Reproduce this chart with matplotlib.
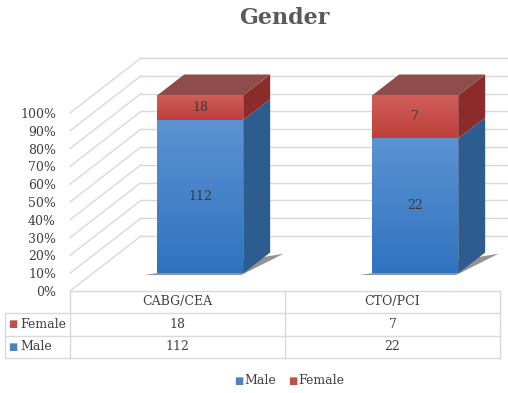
"""
Gender - 3D-looking 100% stacked columns with a data table
"""

import numpy as np
import matplotlib.pyplot as plt
from matplotlib.patches import Polygon

categories = ['CABG/CEA', 'CTO/PCI']
series = ['Male', 'Female']
male = [112, 22]
female = [18, 7]
yticks = [0, 10, 20, 30, 40, 50, 60, 70, 80, 90, 100]

front_col = {'Male': ('#5d93d3', '#2f73bf'), 'Female': ('#d05e5a', '#bd3f3b')}
side_col = {'Male': '#2d5c8e', 'Female': '#8b2c2a'}
top_col = {'Male': '#3f6f9f', 'Female': '#8e4c4a'}

DX, DY = 0.33, 30.9          # full depth offset (x units, percent units)
F0, F1 = 0.32, 0.70          # bar front / back depth
BW = 0.40                    # bar width
grid = '#d9d9d9'
txt = '#404040'

fig = plt.figure(figsize=(5.08, 3.93), dpi=100)
ax = fig.add_axes([70 / 508, 102 / 393, 430 / 508, 178 / 393])
ax.set_xlim(0, 2)
ax.set_ylim(0, 100)
for s in ax.spines.values():
    s.set_visible(False)


def P(x, y, d):
    return (x + d * DX, y + d * DY)


# back wall and side wall grid
for t in yticks:
    ax.plot([P(0, t, 1)[0], 2.2], [P(0, t, 1)[1]] * 2, color=grid, lw=1,
            clip_on=False, zorder=1)
    ax.plot([0, DX], [t, t + DY], color=grid, lw=1, clip_on=False, zorder=1)

ax.set_yticks(yticks)
ax.set_yticklabels(['%d%%' % t for t in yticks], fontsize=9, color=txt,
                   family='DejaVu Serif')
ax.tick_params(axis='y', length=0, pad=10)
ax.set_xticks([])

# gradient image for front faces
grad = np.linspace(0, 1, 64).reshape(-1, 1)

for i, cat in enumerate(categories):
    total = male[i] + female[i]
    vals = {'Male': male[i] / total * 100, 'Female': female[i] / total * 100}
    x0 = i + 0.5 - BW / 2
    bottom = 0
    # shadow under bar
    sh = Polygon([P(x0 - 0.05, bottom, F0 - 0.03), P(x0 + BW, bottom, F0 - 0.03),
                  P(x0 + BW + 0.07, bottom, F1 - 0.02), P(x0 + BW, bottom, F1 - 0.08)],
                 closed=True, fc='#3a3a3a', ec='none', alpha=0.55,
                 clip_on=False, zorder=2)
    ax.add_patch(sh)
    for j, s in enumerate(series):
        h = vals[s]
        y0, y1 = bottom, bottom + h
        # right side face
        side = Polygon([P(x0 + BW, y0, F0), P(x0 + BW, y0, F1),
                        P(x0 + BW, y1, F1), P(x0 + BW, y1, F0)],
                       closed=True, fc=side_col[s], ec='none',
                       clip_on=False, zorder=3)
        ax.add_patch(side)
        # front face with vertical gradient
        fx0, fy0 = P(x0, y0, F0)
        fx1, fy1 = P(x0 + BW, y1, F0)
        c_top, c_bot = front_col[s]
        ctop = np.array(plt.matplotlib.colors.to_rgb(c_top))
        cbot = np.array(plt.matplotlib.colors.to_rgb(c_bot))
        img = ctop[None, None, :] * (1 - grad[:, :, None]) + cbot[None, None, :] * grad[:, :, None]
        ax.imshow(img, extent=(fx0, fx1, fy0, fy1), origin='upper',
                  aspect='auto', zorder=4, clip_on=False)
        # top face on the last segment
        if j == len(series) - 1:
            top = Polygon([P(x0, y1, F0), P(x0 + BW, y1, F0),
                           P(x0 + BW, y1, F1), P(x0, y1, F1)],
                          closed=True, fc=top_col[s], ec='none',
                          clip_on=False, zorder=3)
            ax.add_patch(top)
        val = male[i] if s == 'Male' else female[i]
        ax.text(fx0 + BW / 2, (fy0 + fy1) / 2, str(val), ha='center',
                va='center', fontsize=9, color='#3a3a3a',
                family='DejaVu Serif', zorder=5)
        bottom = y1

ax.set_xlim(0, 2)
ax.set_ylim(0, 100)

# title
fig.text(0.56, 0.955, 'Gender', ha='center', va='center', fontsize=16,
         fontweight='bold', color='#595959', family='DejaVu Serif')


# data table
def fx(px):
    return px / 508


def fy(py):
    return 1 - py / 393


tl = dict(color=grid, lw=1, transform=fig.transFigure)
fig.add_artist(plt.Line2D([fx(70), fx(500)], [fy(291), fy(291)], **tl))
for yy in [313, 336, 358]:
    fig.add_artist(plt.Line2D([fx(5), fx(500)], [fy(yy), fy(yy)], **tl))
for xx in [70, 285, 500]:
    fig.add_artist(plt.Line2D([fx(xx), fx(xx)], [fy(291), fy(358)], **tl))
fig.add_artist(plt.Line2D([fx(5), fx(5)], [fy(313), fy(358)], **tl))

tab_font = dict(fontsize=9, color=txt, family='DejaVu Serif', va='center')
row_y = {'Female': 324.5, 'Male': 347}
row_vals = {'Female': female, 'Male': male}
row_color = {'Female': '#c0504d', 'Male': '#4f81bd'}
for i, cat in enumerate(categories):
    cx = fx(177.5 + 215 * i)
    fig.text(cx, fy(302), cat, ha='center', **tab_font)
    for s in ['Female', 'Male']:
        fig.text(cx, fy(row_y[s]), str(row_vals[s][i]), ha='center', **tab_font)
for s in ['Female', 'Male']:
    fig.text(fx(8), fy(row_y[s]), '\u25a0', ha='left', fontsize=7,
             color=row_color[s], va='center')
    fig.text(fx(20), fy(row_y[s]), s, ha='left', **tab_font)

# legend
leg_x = {'Male': 234, 'Female': 288}
for s in series:
    fig.text(fx(leg_x[s]), fy(381), '\u25a0', ha='left', fontsize=7,
             color=row_color[s], va='center')
    fig.text(fx(leg_x[s] + 10), fy(381), s, ha='left', **tab_font)

fig.savefig('out.png', dpi=100)
